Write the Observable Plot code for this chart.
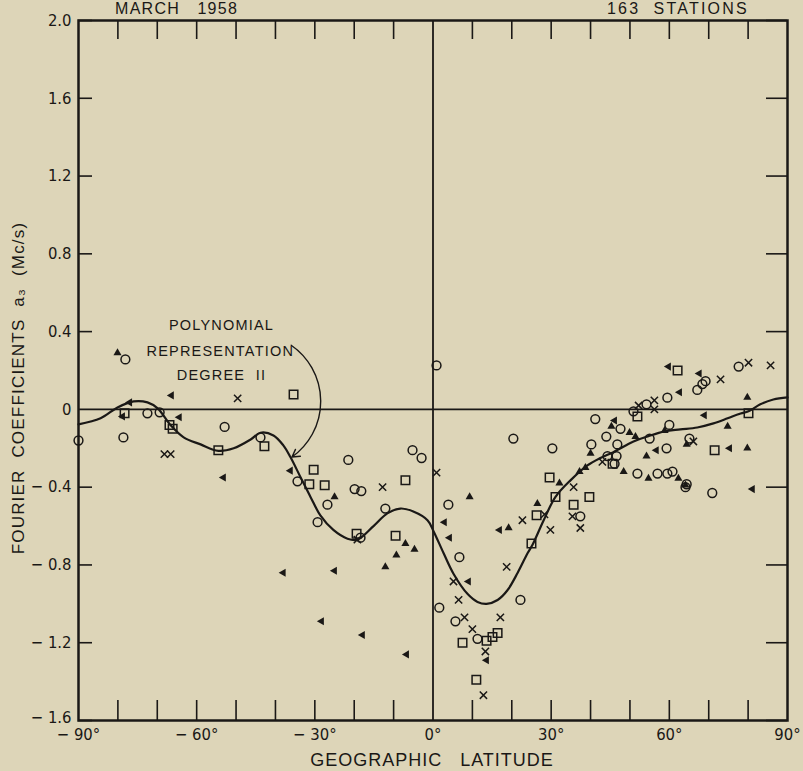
<!DOCTYPE html>
<html><head><meta charset="utf-8">
<script src="https://cdn.jsdelivr.net/npm/d3@7"></script>
<script src="https://cdn.jsdelivr.net/npm/@observablehq/plot@0.6"></script>
<style>
html,body{margin:0;padding:0;background:#ddd5b8;}
#wrap{position:relative;width:803px;height:771px;overflow:hidden;font-family:"Liberation Sans",Arial,sans-serif;color:#1a1816;}
.ov{position:absolute;white-space:pre;line-height:1;}
</style></head><body><div id="wrap"></div>
<script>
// ---- data ----
const titleLeft = "MARCH   1958";
const titleRight = "163  STATIONS";
const xLabel = "GEOGRAPHIC   LATITUDE";
const yLabel = "FOURIER  COEFFICIENTS  a\u2083  (Mc/s)";

const xMinorTicks = [-80,-70,-60,-50,-40,-30,-20,-10,10,20,30,40,50,60,70,80];
const xLabelTicks = [-90,-60,-30,0,30,60,90];
const xTickLabels = ["\u2212 90\u00b0","\u2212 60\u00b0","\u2212 30\u00b0","0\u00b0","30\u00b0","60\u00b0","90\u00b0"];
const yTicks = [-1.6,-1.2,-0.8,-0.4,0,0.4,0.8,1.2,1.6,2.0];
const yTickLabels = ["\u2212 1.6","\u2212 1.2","\u2212 0.8","\u2212 0.4","0","0.4","0.8","1.2","1.6","2.0"];

// polynomial representation (degree 11)
const curveLat = [-90,-84.4,-80.1,-76.0,-72.5,-69.9,-66.6,-63.3,-59,-54.5,-50.6,-46.3,-43.8,-40.5,-38.0,-36.2,-33.6,-31.1,-28.6,-25.3,-21.7,-19.2,-15.1,-11.6,-8.3,-5.0,-1.4,0.1,2.7,5.2,8.8,11.3,13.6,16.4,18.9,21.5,24.0,25.3,28.1,31.1,34.9,39.2,42.5,45.8,50.9,54.5,58.8,62.8,67.1,71.2,74.8,78.1,80.1,83.1,86.4,90];
const curveA   = [-0.077,-0.046,0.01,0.041,0.036,0.005,-0.082,-0.144,-0.18,-0.213,-0.2,-0.155,-0.12,-0.134,-0.185,-0.245,-0.35,-0.45,-0.545,-0.62,-0.665,-0.67,-0.6,-0.535,-0.51,-0.525,-0.57,-0.625,-0.74,-0.845,-0.95,-0.99,-1.0,-0.98,-0.93,-0.84,-0.74,-0.695,-0.57,-0.45,-0.365,-0.288,-0.25,-0.22,-0.165,-0.139,-0.113,-0.103,-0.093,-0.072,-0.046,-0.021,-0.01,0.026,0.051,0.062];

// station values by marker type
const circleLat = [-90,-78.1,-78.6,-72.5,-69.4,-52.9,-43.8,-21.5,-5.2,-2.9,-34.4,-26.8,-29.3,-19.9,-18.2,-12.1,-18.4,0.9,3.9,20.4,30.3,41.2,44.0,40.2,46.8,44.3,46.6,37.4,6.7,1.6,5.7,22.2,11.3,77.6,69.2,68.4,67.1,59.5,54.2,50.9,47.6,55.0,60.0,59.3,65.1,51.9,57.0,59.5,60.8,64.1,64.4,70.9,46.1];
const circleA   = [-0.16,0.257,-0.144,-0.02,-0.015,-0.09,-0.144,-0.26,-0.21,-0.25,-0.37,-0.49,-0.58,-0.41,-0.42,-0.51,-0.66,0.226,-0.49,-0.15,-0.2,-0.05,-0.14,-0.18,-0.18,-0.24,-0.24,-0.55,-0.76,-1.02,-1.09,-0.98,-1.18,0.22,0.145,0.13,0.10,0.06,0.026,-0.01,-0.10,-0.15,-0.08,-0.20,-0.15,-0.33,-0.33,-0.33,-0.32,-0.40,-0.385,-0.43,-0.28];

const squareLat = [-78.3,-66.9,-66.1,-54.5,-42.8,-35.4,-30.3,-31.4,-27.5,-19.4,-9.5,-7.0,29.6,31.1,35.7,26.3,39.7,25.0,7.5,13.6,15.1,16.4,11.0,51.9,80.1,71.5,45.6,62.1];
const squareA   = [-0.02,-0.08,-0.10,-0.21,-0.19,0.077,-0.31,-0.385,-0.39,-0.64,-0.65,-0.365,-0.35,-0.45,-0.49,-0.545,-0.45,-0.69,-1.20,-1.19,-1.17,-1.15,-1.39,-0.036,-0.02,-0.21,-0.28,0.2];

const crossLat = [-49.6,-68.2,-66.6,-12.8,-19.2,0.9,35.7,22.7,28.3,35.4,37.4,29.8,5.2,6.5,8.0,10.0,17.1,18.7,13.3,12.8,56.2,52.2,56.2,66.1,43.0,73.0,80.1,85.7];
const crossA   = [0.057,-0.23,-0.23,-0.40,-0.67,-0.325,-0.40,-0.57,-0.54,-0.55,-0.61,-0.62,-0.885,-0.98,-1.07,-1.13,-1.07,-0.81,-1.245,-1.47,0.046,0.02,0.0,-0.165,-0.27,0.154,0.24,0.226];

const upTriLat = [-80.1,-25.0,-7.0,-4.7,-9.3,-12.1,9.3,26.5,40.0,45.3,37.2,38.7,32.1,19.2,79.8,49.9,74.8,54.2,64.4,79.8,48.4,54.7,62.3,51.4,58.8,64.1];
const upTriA   = [0.29,-0.45,-0.69,-0.72,-0.75,-0.81,-0.45,-0.485,-0.227,-0.087,-0.32,-0.30,-0.38,-0.61,0.062,-0.12,-0.087,-0.24,-0.18,-0.2,-0.32,-0.355,-0.355,-0.14,-0.11,-0.39];

const leftTriLat = [-77.0,-78.8,-66.4,-64.4,-53.2,-36.2,-38.0,-25.0,2.9,-28.3,-17.9,-6.7,4.2,9.0,13.6,16.9,46.1,62.6,68.9,56.7,75.3,81.1,59.8,67.6];
const leftTriA   = [0.036,-0.036,0.072,-0.04,-0.35,-0.315,-0.84,-0.83,-0.58,-1.09,-1.16,-1.26,-0.66,-0.885,-1.29,-0.62,-0.057,0.088,-0.03,-0.21,-0.2,-0.41,0.22,0.185];

// annotation
const annoLines = ["POLYNOMIAL","REPRESENTATION","DEGREE  II"];
const annoLat = [-53.7,-54.0,-53.7];
const annoA = [0.432,0.298,0.175];
const arrowFrom = [-36.0, 0.33];
const arrowTo = [-35.8, -0.245];

// ---- build ----
const INK = "#1a1816";
const W = 803, H = 771, ML = 78, MR = 16, MT = 20, MB = 51;
const FW = W - ML - MR, FH = H - MT - MB;
const pts = (la, aa) => la.map((v, i) => ({lat: v, a: aa[i]}));
const yFmt = d => yTickLabels[yTicks.indexOf(d)];

const triLeft = {
  draw(context, size) {
    const s = Math.sqrt(size / (Math.sqrt(3) / 4));
    const h = s * Math.sqrt(3) / 2;
    context.moveTo(-h * 2 / 3, 0);
    context.lineTo(h / 3, -s / 2);
    context.lineTo(h / 3, s / 2);
    context.closePath();
  }
};

const chart = Plot.plot({
  width: W, height: H,
  marginLeft: ML, marginRight: MR, marginTop: MT, marginBottom: MB,
  x: {domain: [-90, 90]},
  y: {domain: [-1.6, 2.0]},
  style: {background: "transparent", color: INK, fontFamily: "'Liberation Sans Narrow','DejaVu Sans Condensed',sans-serif", fontSize: "16px", overflow: "visible"},
  marks: [
    Plot.ruleX([0], {stroke: INK, strokeWidth: 1.8}),
    Plot.ruleY([0], {stroke: INK, strokeWidth: 1.8}),
    Plot.tickX(xMinorTicks, {x: d => d, insetTop: FH - 20, stroke: INK, strokeWidth: 1.6}),
    Plot.tickX(xMinorTicks, {x: d => d, insetBottom: FH - 19, stroke: INK, strokeWidth: 1.6}),
    Plot.tickY(yTicks.filter(d => d !== 0), {y: d => d, insetRight: FW - 14, stroke: INK, strokeWidth: 1.6}),
    Plot.tickY(yTicks.filter(d => d !== 0), {y: d => d, insetLeft: FW - 21, stroke: INK, strokeWidth: 1.6}),
    Plot.frame({stroke: INK, strokeWidth: 2.5}),
    Plot.axisX(xLabelTicks, {anchor: "bottom", tickSize: 0, tickPadding: 8, label: null, fontSize: 16.5,
      tickFormat: d => xTickLabels[xLabelTicks.indexOf(d)]}),
    Plot.axisY(yTicks.slice(1), {anchor: "left", tickSize: 0, tickPadding: 7, label: null, fontSize: 16.5, tickFormat: yFmt}),
    Plot.axisY(yTicks.slice(0, 1), {anchor: "left", tickSize: 0, tickPadding: 7, label: null, fontSize: 16.5, tickFormat: yFmt, dy: -3}),
    Plot.line(pts(curveLat, curveA), {x: "lat", y: "a", curve: "catmull-rom", stroke: INK, strokeWidth: 2.2}),
    Plot.dot(pts(circleLat, circleA), {x: "lat", y: "a", symbol: "circle", r: 4.4, stroke: INK, strokeWidth: 1.5, fill: "none"}),
    Plot.dot(pts(squareLat, squareA), {x: "lat", y: "a", symbol: "square", r: 4.8, stroke: INK, strokeWidth: 1.5, fill: "none"}),
    Plot.dot(pts(crossLat, crossA), {x: "lat", y: "a", symbol: "times", r: 3.4, stroke: INK, strokeWidth: 1.5}),
    Plot.dot(pts(upTriLat, upTriA), {x: "lat", y: "a", symbol: "triangle", r: 3.0, fill: INK, stroke: "none"}),
    Plot.dot(pts(leftTriLat, leftTriA), {x: "lat", y: "a", symbol: triLeft, r: 3.0, fill: INK, stroke: "none"}),
    Plot.text(annoLines, {x: (d, i) => annoLat[i], y: (d, i) => annoA[i], text: d => d,
      fontFamily: "'Liberation Sans',sans-serif", fontSize: 14.5, fill: INK}),
    Plot.arrow([0], {x1: () => arrowFrom[0], y1: () => arrowFrom[1], x2: () => arrowTo[0], y2: () => arrowTo[1],
      bend: 55, stroke: INK, strokeWidth: 1.4, headLength: 9})
  ]
});

const wrap = document.getElementById("wrap");
wrap.appendChild(chart);
// letter spacing on the annotation lines
d3.select(chart).selectAll("text").filter(function() { return annoLines.includes(this.textContent); })
  .attr("letter-spacing", "1.2");

function overlay(text, css) {
  const d = document.createElement("div");
  d.className = "ov";
  d.textContent = text;
  Object.assign(d.style, css);
  wrap.appendChild(d);
  return d;
}
overlay(titleLeft, {left: "115px", top: "1px", fontSize: "16px", letterSpacing: "1.3px"});
overlay(titleRight, {left: "607px", top: "1px", fontSize: "16px", letterSpacing: "2.2px"});
overlay(xLabel, {left: "432px", top: "751px", fontSize: "18px", letterSpacing: "1px", transform: "translateX(-50%)"});
overlay(yLabel, {left: "18px", top: "388px", fontSize: "17px", letterSpacing: "1.2px", transform: "translate(-50%,-50%) rotate(-90deg)"});
</script></body></html>
